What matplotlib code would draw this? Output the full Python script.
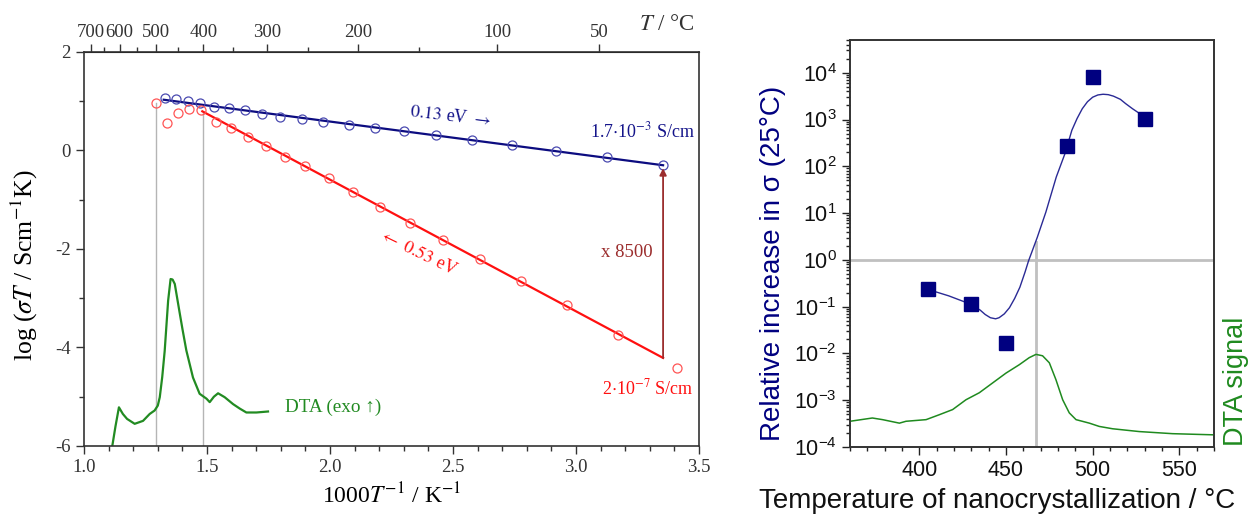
import numpy as np
import matplotlib
matplotlib.use('Agg')
import matplotlib.pyplot as plt
from matplotlib.ticker import FixedLocator, MultipleLocator, LogLocator, NullFormatter

plt.rcParams['font.family'] = ['Liberation Serif', 'DejaVu Serif']
plt.rcParams['mathtext.fontset'] = 'stix'
plt.rcParams['axes.unicode_minus'] = False

# ---- left panel: log(sigma T) vs 1000/T ----
blue_x = [1.328, 1.376, 1.424, 1.473, 1.528, 1.589, 1.656, 1.725, 1.798, 1.886,
          1.973, 2.076, 2.181, 2.300, 2.432, 2.576, 2.740, 2.920, 3.128, 3.354]
blue_y = [1.065, 1.039, 1.012, 0.963, 0.890, 0.862, 0.821, 0.748, 0.687, 0.646,
          0.571, 0.524, 0.455, 0.388, 0.307, 0.205, 0.118, -0.012, -0.134, -0.297]
red_x = [1.293, 1.336, 1.382, 1.428, 1.477, 1.538, 1.598, 1.665, 1.739, 1.816, 1.898,
         1.996, 2.094, 2.205, 2.324, 2.459, 2.611, 2.778, 2.965, 3.172, 3.411]
red_y = [0.963, 0.565, 0.768, 0.835, 0.815, 0.577, 0.449, 0.272, 0.089, -0.134, -0.323,
         -0.561, -0.846, -1.15, -1.476, -1.827, -2.213, -2.654, -3.142, -3.744, -4.423]
blue_fit_x = [1.324, 3.354]
blue_fit_y = [1.03, -0.30]
red_fit_x = [1.481, 3.354]
red_fit_y = [0.795, -4.212]
vline_x = [1.293, 1.483]
vline_top = [0.96, 0.79]
dta_x = [1.105, 1.115, 1.128, 1.142, 1.158, 1.175, 1.206, 1.240, 1.267, 1.287, 1.300,
         1.308, 1.318, 1.328, 1.342, 1.352, 1.360, 1.369, 1.389, 1.400, 1.416, 1.443,
         1.470, 1.498, 1.511, 1.528, 1.545, 1.572, 1.606, 1.633, 1.660, 1.701, 1.748]
dta_y = [-6.3, -6.0, -5.6, -5.215, -5.35, -5.45, -5.55, -5.49, -5.35, -5.28, -5.18,
         -5.01, -4.6, -4.07, -3.05, -2.61, -2.62, -2.71, -3.30, -3.62, -4.06, -4.61,
         -4.94, -5.04, -5.11, -5.0, -4.93, -5.01, -5.15, -5.24, -5.32, -5.32, -5.30]
top_major = [700, 600, 500, 400, 300, 200, 100, 50]
top_minor = [650, 550, 450, 350, 250, 150]

# ---- right panel: relative increase vs crystallization temperature ----
sq_T = [405, 430, 450, 485, 500, 530]
sq_val = [0.24, 0.115, 0.017, 270, 8100, 1050]
fit_T = [405, 409, 417, 427, 435, 438, 441, 444, 446, 449, 452, 455, 458, 461, 463, 468,
         473, 479, 484, 488, 491, 494, 497, 500, 503, 506, 509, 512, 516, 519, 523, 527, 530]
fit_val = [0.24, 0.21, 0.17, 0.123, 0.085, 0.068, 0.058, 0.055, 0.058, 0.070, 0.095, 0.15,
           0.26, 0.55, 0.95, 3.0, 10.5, 59, 186, 590, 1050, 1700, 2400, 3000, 3350, 3470,
           3400, 3160, 2700, 2190, 1700, 1350, 1050]
dtar_T = [360, 372.9, 378.8, 388.5, 392.3, 403.9, 411.5, 419.2, 426.9, 434.6, 442.3, 450,
          457.7, 463.4, 467.3, 471.1, 475, 478.8, 482.7, 486.5, 490.4, 498.1, 503.8,
          511.5, 526.9, 546.1, 570]
dtar_h = [0.55, 0.62, 0.585, 0.51, 0.55, 0.585, 0.69, 0.80, 1.01, 1.16, 1.37, 1.58,
          1.76, 1.91, 1.98, 1.95, 1.80, 1.44, 1.01, 0.73, 0.585, 0.51, 0.44, 0.39,
          0.33, 0.285, 0.26]
t_peak = 467.3


def to_celsius(x):
    x = np.asarray(x, dtype=float)
    with np.errstate(divide='ignore'):
        return 1000.0 / x - 273.15


def to_inv(t):
    t = np.asarray(t, dtype=float)
    with np.errstate(divide='ignore'):
        return 1000.0 / (t + 273.15)


fig = plt.figure(figsize=(12.5, 5.16), dpi=100)

ax = fig.add_axes([0.0672, 0.1357, 0.492, 0.7636])
for xv, yt in zip(vline_x, vline_top):
    ax.plot([xv, xv], [-6, yt], color='#b5b5b5', lw=1.0, zorder=1)
ax.plot(dta_x, dta_y, color='#228b22', lw=1.6, zorder=2)
ax.plot(blue_fit_x, blue_fit_y, color='#0c0c80', lw=1.6, zorder=3)
ax.plot(red_fit_x, red_fit_y, color='#ff1010', lw=1.6, zorder=3)
ax.plot(blue_x, blue_y, 'o', mfc='none', mec='#4a4ab0', mew=0.9, ms=6.5, zorder=4)
ax.plot(red_x, red_y, 'o', mfc='none', mec='#ff5555', mew=0.9, ms=6.5, zorder=4)
ax.annotate('', xy=(blue_fit_x[1], blue_fit_y[1] - 0.06), xytext=(red_fit_x[1], red_fit_y[1]),
            arrowprops=dict(arrowstyle='-|>', color='#9b2d2d', lw=1.3, mutation_scale=10,
                            shrinkA=0, shrinkB=0), zorder=5)

ax.text(2.49, 0.69, r'$\mathit{0.13}$ eV $\rightarrow$', color='#14148a', fontsize=13,
        rotation=-7, ha='center', va='center')
ax.text(3.27, 0.39, r'1.7$\cdot$10$^{-3}$ S/cm', color='#14148a', fontsize=13,
        ha='center', va='center')
ax.text(2.36, -2.07, r'$\leftarrow$ $\mathit{0.53}$ eV', color='#ff1010', fontsize=13,
        rotation=-26, ha='center', va='center')
ax.text(3.31, -2.08, 'x 8500', color='#9b2d2d', fontsize=13.5, ha='right', va='center')
ax.text(3.29, -4.83, r'2$\cdot$10$^{-7}$ S/cm', color='#ff1010', fontsize=13,
        ha='center', va='center')
ax.text(1.816, -5.22, 'DTA (exo ↑)', color='#228b22', fontsize=13.8, ha='left', va='center',
        family=['Liberation Serif', 'DejaVu Sans'])

ax.set_xlim(1.0, 3.5)
ax.set_ylim(-6, 2)
ax.xaxis.set_major_locator(MultipleLocator(0.5))
ax.xaxis.set_minor_locator(MultipleLocator(0.1))
ax.yaxis.set_major_locator(MultipleLocator(2))
ax.yaxis.set_minor_locator(MultipleLocator(1))
ax.xaxis.set_major_formatter(plt.FormatStrFormatter('%.1f'))
ax.tick_params(which='both', direction='out', top=False, right=False, labelsize=13.5,
               width=1.0, colors='#333333', labelcolor='#333333')
ax.tick_params(which='major', length=6)
ax.tick_params(which='minor', length=3.5)
for s in ax.spines.values():
    s.set_linewidth(1.2)
    s.set_color('#333333')
ax.set_xlabel(r'1000$T^{-1}$ / K$^{-1}$', fontsize=17, labelpad=5)
ax.set_ylabel(r'log ($\sigma T$ / Scm$^{-1}$K)', fontsize=18.5, va='center')
ax.yaxis.set_label_coords(-0.096, 0.46)

secax = ax.secondary_xaxis('top', functions=(to_celsius, to_inv))
secax.set_xticks(top_major)
secax.set_xticklabels([str(t) for t in top_major])
secax.xaxis.set_minor_locator(FixedLocator(top_minor))
secax.tick_params(which='both', direction='out', labelsize=13.5, width=1.0,
                  colors='#333333', labelcolor='#333333')
secax.tick_params(which='major', length=6, pad=2)
secax.tick_params(which='minor', length=3.5)
fig.text(667 / 1250, 1 - 25 / 516, r'$T$ / °C', fontsize=16.5, ha='center', va='center',
         color='#333333')

# ---- right panel ----
navy = '#000080'
green = '#1f8a1f'
sans = ['Liberation Sans', 'DejaVu Sans']
bx = fig.add_axes([0.68, 0.1337, 0.2912, 0.7888])
bx.set_xlim(360, 570)
bx.set_ylim(1e-4, 10 ** 4.7)
bx.set_yscale('log')
bx.axhline(1.0, color='#c0c0c0', lw=2.0, zorder=1)
bx.plot([t_peak, t_peak], [1e-4, 2.4], color='#c0c0c0', lw=2.0, zorder=1)
bx.plot(fit_T, fit_val, color='#2a2a95', lw=1.0, zorder=3)
bx.plot(sq_T, sq_val, 's', color=navy, ms=9.5, zorder=4)

bx2 = bx.twinx()
bx2.set_ylim(0, 8.7)
bx2.plot(dtar_T, dtar_h, color=green, lw=1.1)
bx2.set_yticks([])
bx2.set_ylabel('DTA signal', color=green, fontsize=19.5, family=sans, rotation=90,
               va='center', ha='center')
bx2.yaxis.set_label_coords(1 + 22 / 364, (447 - 381) / 407)

bx.xaxis.set_major_locator(MultipleLocator(50))
bx.xaxis.set_minor_locator(MultipleLocator(10))
bx.yaxis.set_major_locator(LogLocator(base=10, numticks=20))
bx.yaxis.set_minor_locator(LogLocator(base=10, subs=np.arange(2, 10), numticks=20))
bx.yaxis.set_minor_formatter(NullFormatter())
bx.tick_params(which='both', direction='out', top=False, right=False, labelsize=15.5,
               width=1.0, colors='#222222', labelcolor='#111111')
bx.tick_params(which='major', length=6)
bx.tick_params(which='minor', length=3)
for spx in (bx, bx2):
    for s in spx.spines.values():
        s.set_linewidth(1.2)
        s.set_color('#333333')
for lbl in bx.get_xticklabels() + bx.get_yticklabels():
    lbl.set_fontfamily(sans)
bx.set_xlabel('Temperature of nanocrystallization / °C', fontsize=20, family=sans,
              color='#111111')
bx.xaxis.set_label_coords((997 - 850) / 364, -0.10)
bx.set_ylabel('Relative increase in σ (25°C)', fontsize=20, family=sans, color=navy,
              va='center')
bx.yaxis.set_label_coords(-0.212, 0.452)

fig.savefig('out.png', dpi=100)
